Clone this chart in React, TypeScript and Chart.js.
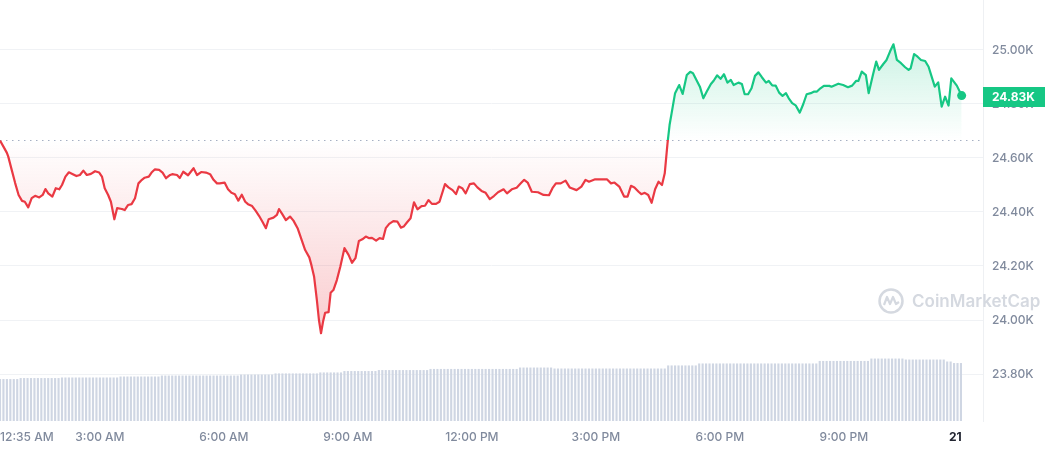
import { useEffect, useRef } from 'react';
import { Chart, registerables } from 'chart.js';

Chart.register(...registerables);

// Minutes after midnight (Feb 20) for each price sample
const priceTimes = [
  35, 40, 45, 47, 52, 57, 62, 67, 71, 76, 81, 86, 92, 97, 101, 105, 111, 116, 121, 125,
  130, 135, 140, 146, 151, 156, 161, 167, 173, 179, 183, 187, 192, 196, 201, 205, 212, 216, 221, 226,
  231, 236, 241, 245, 251, 255, 260, 266, 271, 276, 282, 285, 292, 296, 301, 308, 316, 321, 327, 334,
  340, 345, 350, 354, 361, 366, 371, 376, 381, 386, 391, 395, 401, 406, 411, 416, 421, 425, 432, 437,
  440, 445, 450, 456, 461, 467, 473, 478, 484, 487, 491, 495, 498, 501, 504, 507, 512, 515, 519, 524,
  529, 535, 541, 546, 551, 556, 561, 566, 571, 575, 581, 586, 591, 595, 600, 606, 612, 617, 621, 626,
  631, 636, 641, 647, 652, 657, 662, 668, 673, 681, 686, 692, 697, 701, 706, 711, 717, 723, 728, 734,
  740, 746, 752, 758, 766, 771, 778, 785, 791, 796, 801, 807, 816, 824, 832, 837, 842, 849, 856, 862,
  872, 879, 885, 890, 899, 916, 922, 927, 934, 941, 946, 951, 956, 962, 966, 971, 976, 981, 986, 991,
  996, 1000, 1004, 1007, 1010, 1015, 1021, 1026, 1032, 1037, 1041, 1046, 1051, 1056, 1061, 1067, 1071, 1076, 1081, 1086,
  1091, 1096, 1100, 1107, 1112, 1116, 1121, 1126, 1131, 1136, 1141, 1147, 1151, 1156, 1161, 1166, 1171, 1176, 1180, 1185,
  1190, 1196, 1201, 1206, 1212, 1217, 1221, 1226, 1231, 1239, 1242, 1252, 1259, 1266, 1272, 1278, 1281, 1286, 1292, 1296,
  1302, 1307, 1311, 1317, 1322, 1327, 1332, 1337, 1343, 1349, 1354, 1357, 1362, 1367, 1372, 1378, 1383, 1387, 1392, 1397,
  1402, 1407, 1412, 1416, 1424, 1431,
];

// BTC price in USD
const prices = [
  24665, 24642, 24619, 24605, 24556, 24507, 24463, 24441, 24438, 24417, 24451, 24460, 24454, 24463, 24485, 24469, 24457, 24488, 24484, 24500,
  24531, 24547, 24541, 24533, 24537, 24553, 24537, 24541, 24551, 24546, 24531, 24488, 24463, 24438, 24373, 24414, 24411, 24407, 24426, 24429,
  24451, 24506, 24519, 24527, 24531, 24546, 24558, 24556, 24546, 24525, 24537, 24540, 24537, 24526, 24549, 24536, 24562, 24537, 24548, 24546,
  24540, 24519, 24506, 24506, 24509, 24484, 24471, 24466, 24442, 24464, 24438, 24429, 24422, 24405, 24386, 24364, 24340, 24373, 24379, 24389,
  24411, 24391, 24370, 24383, 24368, 24340, 24296, 24259, 24232, 24204, 24160, 24074, 24000, 23951, 23994, 24027, 24029, 24101, 24111, 24148,
  24197, 24266, 24241, 24212, 24229, 24293, 24299, 24309, 24303, 24304, 24294, 24303, 24300, 24340, 24356, 24366, 24364, 24342, 24346, 24362,
  24377, 24436, 24410, 24422, 24423, 24444, 24430, 24430, 24438, 24503, 24491, 24481, 24466, 24494, 24488, 24469, 24503, 24506, 24491, 24478,
  24471, 24448, 24459, 24473, 24484, 24469, 24484, 24490, 24506, 24519, 24509, 24475, 24473, 24463, 24462, 24488, 24506, 24506, 24516, 24491,
  24481, 24494, 24519, 24512, 24521, 24521, 24506, 24509, 24494, 24457, 24457, 24497, 24491, 24475, 24466, 24471, 24463, 24434, 24484, 24512,
  24500, 24543, 24654, 24722, 24766, 24840, 24870, 24837, 24907, 24919, 24914, 24889, 24864, 24821, 24846, 24874, 24886, 24906, 24893, 24910,
  24879, 24889, 24870, 24879, 24874, 24836, 24836, 24858, 24904, 24917, 24899, 24879, 24885, 24869, 24868, 24842, 24830, 24840, 24821, 24803,
  24795, 24768, 24799, 24836, 24840, 24846, 24846, 24858, 24867, 24867, 24864, 24875, 24870, 24862, 24868, 24886, 24885, 24920, 24907, 24840,
  24905, 24957, 24926, 24947, 24963, 24994, 25021, 24963, 24951, 24936, 24926, 24932, 24985, 24975, 24963, 24959, 24938, 24905, 24864, 24880,
  24790, 24827, 24794, 24895, 24868, 24831,
];

const openPrice = 24665;

// 24h volume (billion USD), one bar every 5 minutes: [value, number of bars]
const volumeStartTime = 35;
const volumeStepMinutes = 5;
const volumeRuns: [number, number][] = [
  [29.9, 6], [30.6, 12], [31.0, 17], [31.7, 12], [32.4, 23], [33.1, 10], [33.9, 13], [34.6, 7],
  [35.6, 10], [36.3, 15], [37.1, 26], [38.1, 10], [37.4, 33], [39.6, 9], [41.0, 35], [42.8, 15],
  [44.5, 10], [43.8, 12], [42.4, 2], [41.3, 3],
];

const xTickTimes = [35, 180, 360, 540, 720, 900, 1080, 1260, 1431];
const xTickLabels = ['12:35 AM', '3:00 AM', '6:00 AM', '9:00 AM', '12:00 PM', '3:00 PM', '6:00 PM', '9:00 PM', '21'];
const yTickValues = [23800, 24000, 24200, 24400, 24600, 24800, 25000];

const X_MIN = 35;
const X_MAX = 1462;
const Y_MIN = 23626;
const Y_MAX = 25185;
const VOL_MAX = 300;

const GREEN = '#16c784';
const RED = '#ea3943';

function fmtK(v: number) {
  return (v / 1000).toFixed(2) + 'K';
}

export default function App() {
  const canvasRef = useRef<HTMLCanvasElement | null>(null);

  useEffect(() => {
    const canvas = canvasRef.current;
    if (!canvas) return;

    const volumeData: { x: number; y: number }[] = [];
    let t = volumeStartTime;
    for (const [v, n] of volumeRuns) {
      for (let i = 0; i < n; i++) {
        volumeData.push({ x: t, y: v });
        t += volumeStepMinutes;
      }
    }
    const priceData = priceTimes.map((x, i) => ({ x, y: prices[i] }));
    const maxP = Math.max(...prices);
    const minP = Math.min(...prices);

    const overlay = {
      id: 'overlay',
      beforeDatasetsDraw(chart: any) {
        const { ctx, chartArea, scales } = chart;
        const yb = Math.round(scales.y.getPixelForValue(openPrice)) + 0.5;
        ctx.save();
        ctx.strokeStyle = '#a6b0c3';
        ctx.lineWidth = 1;
        ctx.setLineDash([1.5, 4.5]);
        ctx.beginPath();
        ctx.moveTo(chartArea.left, yb);
        ctx.lineTo(chartArea.right, yb);
        ctx.stroke();
        ctx.setLineDash([]);

        // watermark
        const cx = 891;
        const cy = 301;
        ctx.strokeStyle = '#d5d9e0';
        ctx.lineWidth = 2.5;
        ctx.beginPath();
        ctx.arc(cx, cy, 11.5, 0, Math.PI * 2);
        ctx.stroke();
        ctx.lineWidth = 2.2;
        ctx.lineJoin = 'round';
        ctx.beginPath();
        ctx.moveTo(cx - 7, cy + 4);
        ctx.lineTo(cx - 4, cy - 4);
        ctx.lineTo(cx - 1, cy + 3);
        ctx.lineTo(cx + 2, cy - 4);
        ctx.lineTo(cx + 5, cy + 3);
        ctx.lineTo(cx + 8, cy + 1);
        ctx.stroke();
        ctx.fillStyle = '#d5d9e0';
        ctx.font = '600 17px Inter';
        ctx.textAlign = 'left';
        ctx.textBaseline = 'middle';
        ctx.fillText('CoinMarketCap', 912, cy + 1);
        ctx.restore();
      },
      afterDraw(chart: any) {
        const { ctx, chartArea, scales } = chart;
        const last = prices[prices.length - 1];
        const y = scales.y.getPixelForValue(last) + 1;
        ctx.save();
        ctx.fillStyle = GREEN;
        ctx.fillRect(chartArea.right, Math.round(y - 10), 62, 20);
        ctx.fillStyle = '#ffffff';
        ctx.font = '700 12px Inter';
        ctx.textAlign = 'left';
        ctx.textBaseline = 'middle';
        ctx.fillText(fmtK(last), chartArea.right + 9, y + 0.5);
        ctx.restore();
      },
    };

    const chart = new Chart(canvas, {
      type: 'line',
      data: {
        datasets: [
          {
            type: 'line',
            data: priceData,
            yAxisID: 'y',
            order: 0,
            borderWidth: 2.2,
            tension: 0,
            borderJoinStyle: 'round',
            fill: { value: openPrice },
            borderColor: (c: any) => {
              const ch = c.chart;
              const area = ch.chartArea;
              if (!area) return RED;
              const yb = ch.scales.y.getPixelForValue(openPrice);
              const g = ch.ctx.createLinearGradient(0, area.top, 0, area.bottom);
              const s = Math.min(Math.max((yb - area.top) / (area.bottom - area.top), 0), 1);
              g.addColorStop(0, GREEN);
              g.addColorStop(s, GREEN);
              g.addColorStop(s, RED);
              g.addColorStop(1, RED);
              return g;
            },
            backgroundColor: (c: any) => {
              const ch = c.chart;
              const area = ch.chartArea;
              if (!area) return 'rgba(0,0,0,0)';
              const sy = ch.scales.y;
              const h = area.bottom - area.top;
              const f = (p: number) => Math.min(Math.max((sy.getPixelForValue(p) - area.top) / h, 0), 1);
              const g = ch.ctx.createLinearGradient(0, area.top, 0, area.bottom);
              g.addColorStop(0, 'rgba(22,199,132,0.24)');
              g.addColorStop(f(maxP), 'rgba(22,199,132,0.22)');
              g.addColorStop(f(openPrice), 'rgba(22,199,132,0.0)');
              g.addColorStop(f(openPrice), 'rgba(234,57,67,0.0)');
              g.addColorStop(f(minP), 'rgba(234,57,67,0.26)');
              g.addColorStop(1, 'rgba(234,57,67,0.26)');
              return g;
            },
            pointRadius: (c: any) => (c.dataIndex === prices.length - 1 ? 4.5 : 0),
            pointHoverRadius: 0,
            pointBorderWidth: 0,
            pointBackgroundColor: GREEN,
          } as any,
          {
            type: 'bar',
            data: volumeData,
            yAxisID: 'yv',
            order: 1,
            backgroundColor: '#cfd6e3',
            barPercentage: 0.62,
            categoryPercentage: 1,
          } as any,
        ],
      },
      options: {
        responsive: false,
        animation: false,
        events: [],
        layout: { padding: 0, autoPadding: false },
        plugins: {
          legend: { display: false },
          tooltip: { enabled: false },
        },
        scales: {
          x: {
            type: 'linear',
            min: X_MIN,
            max: X_MAX,
            offset: false,
            grid: { display: false, drawTicks: false },
            border: { display: false },
            afterBuildTicks: (scale: any) => {
              scale.ticks = xTickTimes.map((v) => ({ value: v }));
            },
            afterFit: (scale: any) => {
              scale.height = 29;
              scale.paddingLeft = 0;
              scale.paddingRight = 0;
            },
            ticks: {
              autoSkip: false,
              maxRotation: 0,
              minRotation: 0,
              align: 'inner',
              padding: 9,
              color: (c: any) => (c.index === xTickTimes.length - 1 ? '#222531' : '#808a9d'),
              font: (c: any) => ({
                family: 'Inter',
                size: 12,
                weight: c.index === xTickTimes.length - 1 ? '700' : '500',
              }),
              callback: (v: any) => {
                const i = xTickTimes.indexOf(Number(v));
                return i >= 0 ? xTickLabels[i] : '';
              },
            },
          },
          y: {
            type: 'linear',
            position: 'right',
            min: Y_MIN,
            max: Y_MAX,
            grid: { color: '#f0f2f5', drawTicks: false, lineWidth: 1 },
            border: { display: true, color: '#eef0f3' },
            afterBuildTicks: (scale: any) => {
              scale.ticks = yTickValues.map((v) => ({ value: v }));
            },
            afterFit: (scale: any) => {
              scale.width = 62;
              scale.paddingTop = 0;
              scale.paddingBottom = 0;
            },
            ticks: {
              padding: 9,
              color: '#808a9d',
              font: { family: 'Inter', size: 12, weight: '500' },
              callback: (v: any) => fmtK(Number(v)),
            },
          },
          yv: {
            type: 'linear',
            display: false,
            min: 0,
            max: VOL_MAX,
          },
        },
      } as any,
      plugins: [overlay],
    });

    return () => {
      chart.destroy();
    };
  }, []);

  return (
    <div style={{ position: 'fixed', left: 0, top: 0, width: 1045, height: 450, background: '#ffffff' }}>
      <canvas ref={canvasRef} width={1045} height={450} style={{ display: 'block' }} />
    </div>
  );
}
